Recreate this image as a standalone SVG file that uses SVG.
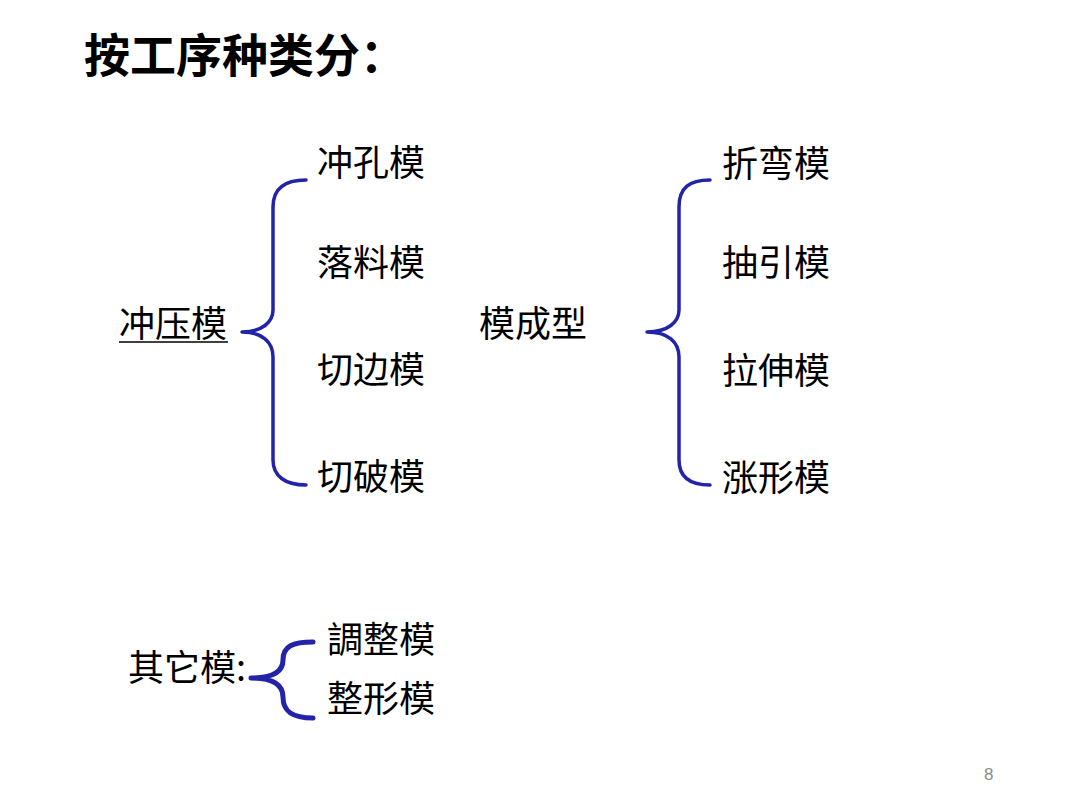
<svg xmlns="http://www.w3.org/2000/svg" width="1080" height="810" viewBox="0 0 1080 810">
<style>
  .t{font-family:"Noto Sans CJK SC","Noto Sans CJK TC",sans-serif;font-size:36px;fill:#000;}
  .title{font-family:"Noto Sans CJK SC",sans-serif;font-size:46px;font-weight:700;fill:#000;}
  .tc{font-family:"Noto Sans CJK TC","Noto Sans CJK SC",sans-serif;font-size:36px;fill:#000;}
  .brace{fill:none;stroke:#2323AA;stroke-width:3.5;stroke-linecap:round;stroke-linejoin:round;}
  .pg{font-family:"Liberation Sans",Arial,sans-serif;font-size:17px;fill:#8a8a8a;}
</style>
<rect width="1080" height="810" fill="#fff"/>
<g id="title"><text class="title" x="84" y="72">按工序种类分：</text></g>

<g id="connectors">
  <path class="brace" d="M306,180 C285,180 273,188 273,207 L273,310 C273,322 262,332 242,332 C262,332 273,342 273,357 L273,460 C273,476 285,485 306,485"/>
  <path class="brace" d="M710,180 C689,180 679,188 679,207 L679,310 C679,322 668,332 647,332 C668,332 679,342 679,357 L679,460 C679,476 689,485 710,485"/>
  <path class="brace" style="stroke-width:5" d="M313,642 C293,642 283,646 283,660 C283,672 272,678 251,678 C272,678 283,684 283,697 C283,712 293,718 313,718"/>
</g>

<g id="node-chongya">
  <text class="t" x="119" y="337">冲压模</text>
  <line x1="119" y1="342" x2="228" y2="342" stroke="#000" stroke-width="1.5"/>
</g>
<g id="node-chongkong"><text class="t" x="317" y="176">冲孔模</text></g>
<g id="node-luoliao"><text class="t" x="317" y="276">落料模</text></g>
<g id="node-qiebian"><text class="t" x="317" y="383">切边模</text></g>
<g id="node-qiepo"><text class="t" x="317" y="490">切破模</text></g>

<g id="node-mochengxing"><text class="t" x="479" y="337">模成型</text></g>
<g id="node-zhewan"><text class="t" x="722" y="177">折弯模</text></g>
<g id="node-chouyin"><text class="t" x="722" y="276">抽引模</text></g>
<g id="node-lashen"><text class="t" x="722" y="384">拉伸模</text></g>
<g id="node-zhangxing"><text class="t" x="722" y="491">涨形模</text></g>

<g id="node-qita"><text class="tc" x="128" y="681">其它模:</text></g>
<g id="node-tiaozheng"><text class="tc" x="327" y="653">調整模</text></g>
<g id="node-zhengxing"><text class="tc" x="327" y="712">整形模</text></g>

<g id="page"><text class="pg" x="984" y="780">8</text></g>
</svg>
